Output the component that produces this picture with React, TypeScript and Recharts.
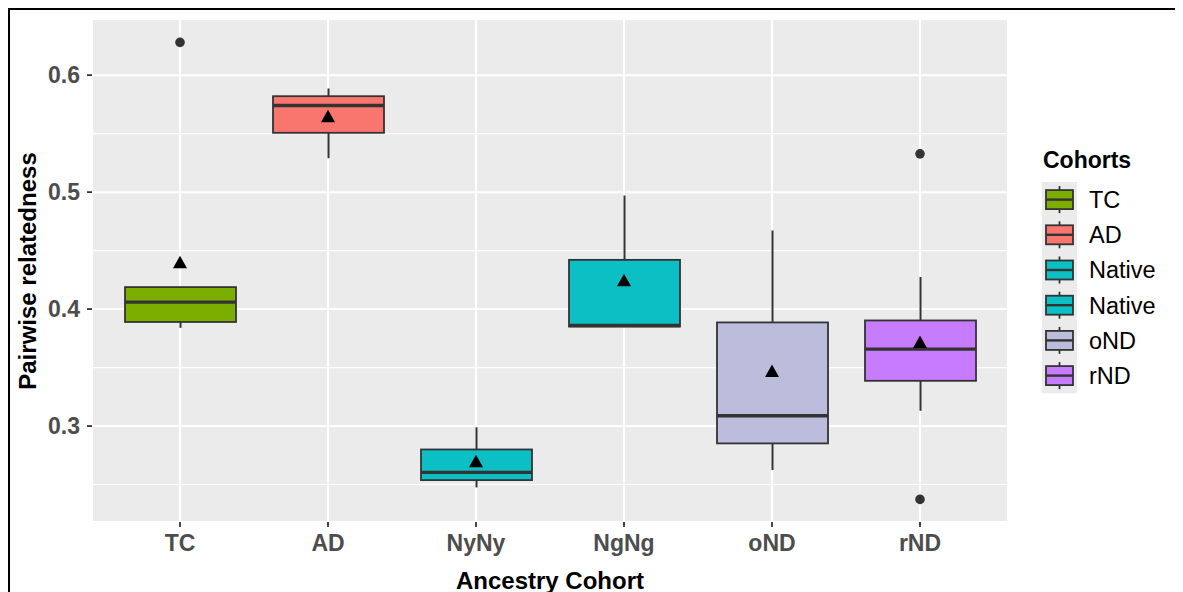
import React from "react";
import {
  Bar,
  CartesianGrid,
  ComposedChart,
  Scatter,
  XAxis,
  YAxis,
} from "recharts";

const cohorts = ["TC", "AD", "NyNy", "NgNg", "oND", "rND"];
const legendLabels = ["TC", "AD", "Native", "Native", "oND", "rND"];
const fills = ["#7CAE00", "#F8766D", "#0BBFC4", "#0BBFC4", "#BCBDDC", "#C77CFF"];

const lowerWhisker = [0.384, 0.529, 0.2476, 0.385, 0.2624, 0.3131];
const q1 = [0.389, 0.5507, 0.2538, 0.3851, 0.2852, 0.3387];
const median = [0.406, 0.574, 0.2604, 0.386, 0.3088, 0.3658];
const q3 = [0.4188, 0.582, 0.28, 0.4421, 0.3886, 0.3903];
const upperWhisker = [0.4188, 0.5886, 0.2989, 0.4971, 0.4672, 0.4274];
const means = [0.4396, 0.5644, 0.2695, 0.4242, 0.3467, 0.3715];
const highOutliers = [0.628, null, null, null, null, 0.5327];
const lowOutliers = [null, null, null, null, null, 0.2373];

const yTicks = [0.3, 0.4, 0.5, 0.6];
const yMinor = [0.25, 0.35, 0.45, 0.55];

const FONT = '"Liberation Sans", Arial, Helvetica, sans-serif';
const OUTLINE = "#333333";

const data = cohorts.map((cohort, i) => ({
  cohort,
  fill: fills[i],
  lo: lowerWhisker[i],
  q1: q1[i],
  median: median[i],
  q3: q3[i],
  hi: upperWhisker[i],
  range: [lowerWhisker[i], upperWhisker[i]],
  mean: means[i],
  outHigh: highOutliers[i],
  outLow: lowOutliers[i],
}));

// the bar spans lower..upper whisker, so its pixel box gives the value->y mapping
function BoxShape(props: any) {
  const { x, y, width, height, payload } = props;
  const top = Math.min(y, y + height);
  const h = Math.abs(height);
  const span = payload.hi - payload.lo;
  const py = (v: number) => top + ((payload.hi - v) / span) * h;
  const cx = x + width / 2;
  const boxTop = py(payload.q3);
  const boxBottom = py(payload.q1);
  return (
    <g>
      <line x1={cx} x2={cx} y1={py(payload.hi)} y2={boxTop} stroke={OUTLINE} strokeWidth={2} />
      <line x1={cx} x2={cx} y1={boxBottom} y2={py(payload.lo)} stroke={OUTLINE} strokeWidth={2} />
      <rect
        x={x}
        y={boxTop}
        width={width}
        height={Math.max(boxBottom - boxTop, 0.5)}
        fill={payload.fill}
        stroke={OUTLINE}
        strokeWidth={1.8}
      />
      <line x1={x} x2={x + width} y1={py(payload.median)} y2={py(payload.median)} stroke={OUTLINE} strokeWidth={3.4} />
    </g>
  );
}

const outlierShape = (key: string) => (props: any) => {
  if (props.payload == null || props.payload[key] == null || !isFinite(props.cy)) return <g />;
  return <circle cx={props.cx} cy={props.cy} r={4.8} fill={OUTLINE} />;
};

function MeanShape(props: any) {
  const { cx, cy } = props;
  return (
    <polygon points={`${cx - 7},${cy + 5.5} ${cx + 7},${cy + 5.5} ${cx},${cy - 7}`} fill="#000" />
  );
}

function YTitle() {
  return (
    <text
      x={26}
      y={261}
      transform="rotate(-90 26 261)"
      textAnchor="middle"
      fontFamily={FONT}
      fontWeight="bold"
      fontSize={24}
      fill="#000"
    >
      Pairwise relatedness
    </text>
  );
}

function XTitle() {
  return (
    <text x={540} y={579} textAnchor="middle" fontFamily={FONT} fontWeight="bold" fontSize={24} fill="#000">
      Ancestry Cohort
    </text>
  );
}

function CohortLegend() {
  const rowH = 35.2;
  const top = 172;
  return (
    <svg
      width={150}
      height={400}
      style={{ position: "absolute", left: 1020, top: 0, overflow: "visible" }}
    >
      <text x={13} y={158} fontFamily={FONT} fontWeight="bold" fontSize={23} fill="#000">
        Cohorts
      </text>
      <rect x={12} y={top} width={35} height={rowH * legendLabels.length} fill="#EBEBEB" />
      {legendLabels.map((label, i) => {
        const cy = top + rowH * i + rowH / 2;
        return (
          <g key={i}>
            <line x1={29.5} x2={29.5} y1={cy - 13.5} y2={cy + 13.5} stroke={OUTLINE} strokeWidth={1.8} />
            <rect x={16} y={cy - 9.5} width={27} height={19} fill={fills[i]} stroke={OUTLINE} strokeWidth={1.8} />
            <line x1={16} x2={43} y1={cy} y2={cy} stroke={OUTLINE} strokeWidth={2.4} />
            <text x={59} y={cy} dy="0.36em" fontFamily={FONT} fontSize={23.5} fill="#000">
              {label}
            </text>
          </g>
        );
      })}
    </svg>
  );
}

export default function App() {
  return (
    <div
      style={{
        position: "relative",
        width: 1166,
        height: 600,
        border: "2px solid #000",
        background: "#fff",
      }}
    >
      <style>{"html,body{overflow:hidden}"}</style>
      <ComposedChart
        width={1166}
        height={600}
        data={data}
        margin={{ top: 9, right: 168, bottom: 48, left: 0 }}
      >
        {/* minor horizontal lines first, then the major grid on top of them */}
        <CartesianGrid
          fill="#EBEBEB"
          stroke="#FFFFFF"
          strokeWidth={1.1}
          vertical={false}
          horizontalValues={yMinor}
        />
        <CartesianGrid stroke="#FFFFFF" strokeWidth={2} fill="none" />
        <XAxis
          dataKey="cohort"
          padding={{ left: 14, right: 14 }}
          axisLine={false}
          tickLine={{ stroke: OUTLINE, strokeWidth: 1.8 }}
          tickSize={5}
          tickMargin={8}
          height={40}
          interval={0}
          tick={{ fill: "#4D4D4D", fontSize: 23, fontWeight: "bold", fontFamily: FONT }}
          label={<XTitle />}
        />
        <YAxis
          type="number"
          domain={[0.218, 0.648]}
          ticks={yTicks}
          allowDataOverflow
          width={82}
          axisLine={false}
          tickLine={{ stroke: OUTLINE, strokeWidth: 1.8 }}
          tickSize={5}
          tickMargin={7}
          tickFormatter={(v: number) => v.toFixed(1)}
          tick={{ fill: "#4D4D4D", fontSize: 23, fontWeight: "bold", fontFamily: FONT }}
          label={<YTitle />}
        />
        <Bar dataKey="range" barSize={111} shape={<BoxShape />} isAnimationActive={false} />
        <Scatter dataKey="outHigh" shape={outlierShape("outHigh")} isAnimationActive={false} />
        <Scatter dataKey="outLow" shape={outlierShape("outLow")} isAnimationActive={false} />
        <Scatter dataKey="mean" shape={<MeanShape />} isAnimationActive={false} />
      </ComposedChart>
      <CohortLegend />
    </div>
  );
}
